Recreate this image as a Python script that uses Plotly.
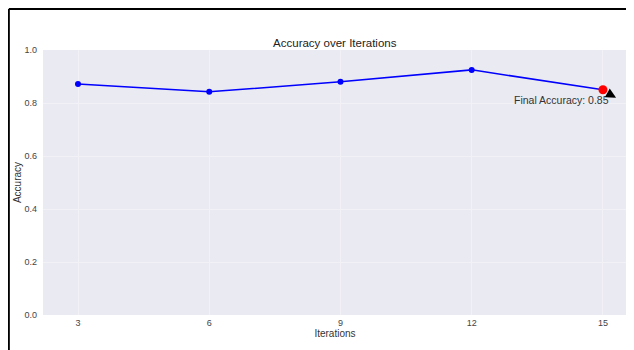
import plotly.graph_objects as go

iterations = [3, 6, 9, 12, 15]
accuracy = [0.872, 0.842, 0.880, 0.925, 0.850]
final_iteration = 15
final_accuracy = 0.85
x_ticks = [3, 6, 9, 12, 15]
y_ticks = [0.0, 0.2, 0.4, 0.6, 0.8, 1.0]

fig = go.Figure()
fig.add_trace(go.Scatter(
    x=iterations, y=accuracy, mode="lines+markers",
    line=dict(color="#0000ff", width=1.5),
    marker=dict(color="#0000ff", size=6),
    showlegend=False,
))
fig.add_trace(go.Scatter(
    x=[final_iteration], y=[final_accuracy], mode="markers",
    marker=dict(color="#ff0000", size=9),
    showlegend=False,
))

# annotation text
fig.add_annotation(
    x=15.19, y=0.811, xref="x", yref="y", xanchor="right", yanchor="middle",
    text="Final Accuracy: 0.85", showarrow=False,
    font=dict(size=10.5, color="#333333", family="Liberation Sans, Arial, sans-serif"),
)
# arrow head pointing at the final point
fig.add_annotation(
    x=15.3, y=0.82, xref="x", yref="y",
    text="", showarrow=True,
    ax=-9, ay=-5, arrowhead=2, arrowsize=1.0, arrowwidth=2, arrowcolor="black", standoff=0,
)

# figure frame lines (left and top)
fig.add_shape(type="line", xref="paper", yref="paper", x0=-0.0585, x1=-0.0585, y0=-0.2, y1=1.155,
              line=dict(color="black", width=2))
fig.add_shape(type="line", xref="paper", yref="paper", x0=-0.0585, x1=1.02, y0=1.155, y1=1.155,
              line=dict(color="black", width=2))

fig.update_layout(
    width=626, height=342,
    margin=dict(l=35, r=7, t=42, b=35),
    paper_bgcolor="white",
    plot_bgcolor="#eaeaf2",
    font=dict(family="Liberation Sans, Arial, sans-serif", size=9, color="#444444"),
    title=dict(text="Accuracy over Iterations", x=0.522, xanchor="center", y=0.897, yanchor="middle",
               font=dict(size=11.5, color="#222222")),
)
fig.update_xaxes(
    range=[2.2, 15.55], tickvals=x_ticks, showgrid=True, gridcolor="#f2f2f6", gridwidth=1,
    zeroline=False, showline=False, ticks="", ticklabelstandoff=1,
    title=dict(text="Iterations", font=dict(size=10, color="#333333"), standoff=0),
)
fig.update_yaxes(
    range=[0, 1.0], tickvals=y_ticks, tickformat=".1f", showgrid=True, gridcolor="#f2f2f6", gridwidth=1,
    zeroline=False, showline=False, ticks="", ticklabelstandoff=5,
    title=dict(text="Accuracy", font=dict(size=10, color="#333333"), standoff=0),
)

fig.write_html("out.html")
